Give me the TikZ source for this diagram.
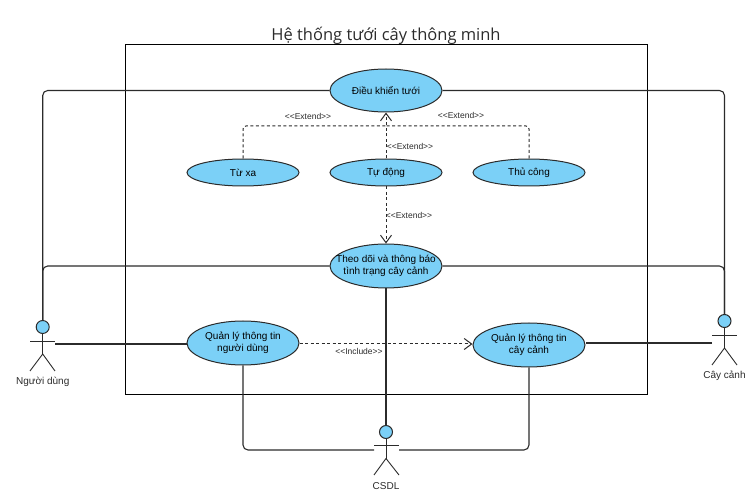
\documentclass[tikz,border=0pt]{standalone}
\usepackage{fontspec}
\setmainfont{Liberation Sans}
\newfontfamily\titlefont{Open Sans}
\usetikzlibrary{shapes.geometric,arrows.meta}
\definecolor{ucfill}{HTML}{7BD0F7}
\definecolor{ucline}{HTML}{2B2B2B}
\tikzset{
  usecase/.style={ellipse,draw=ucline,fill=ucfill,line width=1pt,inner ysep=0pt,inner xsep=-14pt,minimum width=112pt,align=center,font=\fontsize{10}{11.5}\selectfont},
  head/.style={circle,draw=ucline,fill=ucfill,line width=1pt,inner sep=0pt,minimum size=13pt},
  limb/.style={line width=0.9pt,draw=ucline},
  assoc/.style={line width=1.1pt,draw=ucline,rounded corners=5pt},
  depend/.style={line width=1pt,draw=ucline,dashed,dash pattern=on 3pt off 2.5pt,rounded corners=3pt},
  stereo/.style={font=\fontsize{8.5}{10}\selectfont,text=ucline,inner sep=0pt},
  actorname/.style={font=\fontsize{10}{12}\selectfont,text=ucline,inner sep=0pt}
}
\begin{document}
\begin{tikzpicture}[x=1pt,y=-1pt,>={Straight Barb[length=7.5pt,width=11pt]}]
\useasboundingbox (0,0) rectangle (756,497);
%==================== System ==================
\draw[line width=1pt,black] (125,45) rectangle (647,395);
\node[inner sep=0pt,font=\titlefont\fontsize{16.5}{20}\selectfont,text=ucline] (title) at (386,36) {Hệ thống tưới cây thông minh};
%==================== Use cases ==================
\node[usecase,minimum height=43pt] (ctrl) at (386,90.5) {Điều khiển tưới};
\node[usecase,minimum height=27pt] (remote) at (243,172.5) {Từ xa};
\node[usecase,minimum height=27pt] (auto) at (386,172.5) {Tự động};
\node[usecase,minimum height=27pt] (manual) at (529,172.5) {Thủ công};
\node[usecase,minimum height=44pt] (monitor) at (386,266) {Theo dõi và thông báo\\tình trạng cây cảnh};
\node[usecase,minimum height=44pt] (users) at (243,343) {Quản lý thông tin\\người dùng};
\node[usecase,minimum height=44pt] (plants) at (529,345) {Quản lý thông tin\\cây cảnh};
%==================== Actor: user ==================
\node[head] (userhead) at (42.7,327) {};
\coordinate (userarmL) at (30,341);
\coordinate (userarmR) at (55,341);
\coordinate (userhip) at (42.7,354);
\coordinate (userfootL) at (30,371);
\coordinate (userfootR) at (55,371);
\coordinate (userhand) at (55,344);
\draw[limb] (userhead.south) -- (userhip);
\draw[limb] (userarmL) -- (userarmR);
\draw[limb] (userfootL) -- (userhip) -- (userfootR);
\node[actorname] (username) at (42.7,381.5) {Người dùng};
%==================== Actor: plant ==================
\node[head] (planthead) at (724.5,321) {};
\coordinate (plantarmL) at (712,335);
\coordinate (plantarmR) at (737,335);
\coordinate (planthip) at (724.5,348);
\coordinate (plantfootL) at (712,365);
\coordinate (plantfootR) at (737,365);
\coordinate (planthand) at (712,343);
\draw[limb] (planthead.south) -- (planthip);
\draw[limb] (plantarmL) -- (plantarmR);
\draw[limb] (plantfootL) -- (planthip) -- (plantfootR);
\node[actorname] (plantname) at (724.5,375.5) {Cây cảnh};
%==================== Actor: database ==================
\node[head] (dbhead) at (386,432) {};
\coordinate (dbarmL) at (374,445);
\coordinate (dbarmR) at (399,445);
\coordinate (dbhip) at (386,458.5);
\coordinate (dbfootL) at (374,475);
\coordinate (dbfootR) at (399,475);
\coordinate (dbhandL) at (374,450);
\coordinate (dbhandR) at (399,450);
\draw[limb] (dbhead.south) -- (dbhip);
\draw[limb] (dbarmL) -- (dbarmR);
\draw[limb] (dbfootL) -- (dbhip) -- (dbfootR);
\node[actorname] (dbname) at (386,486) {CSDL};
%==================== Associations ==================
\draw[assoc] (userhead.north) |- (ctrl.west);
\draw[assoc] (userhead.north) |- (monitor.west);
\draw[assoc] (planthead.north) |- (ctrl.east);
\draw[assoc] (planthead.north) |- (monitor.east);
\draw[assoc] (userhand) -- (users.west |- userhand);
\draw[assoc] (planthand) -- (plants.east |- planthand);
\draw[assoc] (monitor.south) -- (dbhead.north);
\draw[assoc] (users.south) |- (dbhandL);
\draw[assoc] (plants.south) |- (dbhandR);
%==================== Dependencies ==================
\coordinate (joint) at (386,126);
\draw[depend] (remote.north) |- (joint);
\draw[depend] (manual.north) |- (joint);
\draw[depend,->] (auto.north) -- (ctrl.south);
\draw[depend,->] (auto.south) -- (monitor.north);
\draw[depend,->] (users.east |- userhand) -- (plants.west |- userhand);
%==================== Labels ==================
\node[stereo] (extendA) at (308,116) {<{}<Extend>{}>};
\node[stereo] (extendB) at (461,115) {<{}<Extend>{}>};
\node[stereo] (extendC) at (410,146) {<{}<Extend>{}>};
\node[stereo] (extendD) at (409,215) {<{}<Extend>{}>};
\node[stereo] (includeA) at (359,351.5) {<{}<Include>{}>};
\end{tikzpicture}
\end{document}
